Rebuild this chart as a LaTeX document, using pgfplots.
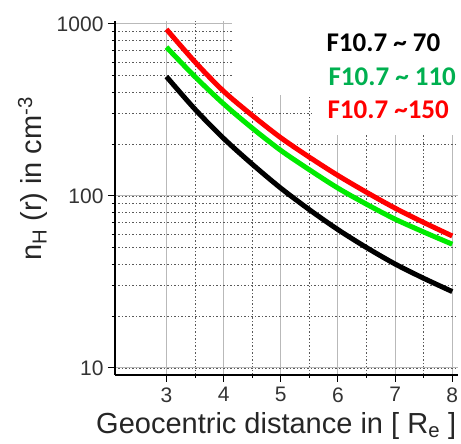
\documentclass[border=0pt]{standalone}
\usepackage{pgfplots}
\pgfplotsset{compat=1.18}
\usepackage{fontspec}
\setmainfont{Liberation Sans}
\newfontfamily\calibri{Carlito}
\definecolor{lgreen}{RGB}{0,235,0}
\definecolor{tgreen}{RGB}{0,176,80}

\begin{document}
\begin{tikzpicture}
\begin{axis}[
    scale only axis,
    width=343pt, height=354pt,
    ymode=log,
    xmin=2.1, xmax=8.1,
    ymin=9.1, ymax=1040,
    axis x line=bottom, axis y line=left,
    axis line style={-, line width=1.4pt},
    xtick={3,4,5,6,7,8},
    minor x tick num=1,
    ytick={10,100,1000},
    yticklabels={10,100,1000},
    tick align=outside,
    major tick length=7pt, minor tick length=3pt,
    tick style={black, line width=1pt},
    grid=both,
    major grid style={gray!55, line width=1pt, solid},
    minor grid style={black!65, line width=0.8pt, dash pattern=on 1.5pt off 2pt},
    /pgf/number format/assume math mode=true,
    tick label style={font=\fontsize{21}{25}\selectfont, text=black!80},
    xticklabel style={yshift=-2pt},
    yticklabel style={xshift=-1pt},
    xlabel={Geocentric distance in [ R\textsubscript{e} ]},
    ylabel={n\textsubscript{H} (r) in cm\textsuperscript{-3}},
    xlabel style={font=\fontsize{29}{33}\selectfont, text=black!85,
        at={(axis description cs:0.47,-0.166)}, anchor=base},
    ylabel style={font=\fontsize{29}{33}\selectfont, text=black!85,
        at={(axis description cs:-0.24,0.554)}, anchor=center},
    clip=true,
]
\fill[white] (axis cs:4.15,386) rectangle (axis cs:8.3,1200);
\fill[white] (axis cs:5.55,226) rectangle (axis cs:8.3,400);
\addplot[black, line width=5pt, smooth] coordinates {
    (3,494) (3.5,319) (4,216) (4.5,153) (5,111) (5.5,83.2) (6,63.7) (6.5,50.1) (7,40.2) (7.5,33.2) (8,27.8)};
\addplot[lgreen, line width=5pt, smooth] coordinates {
    (3,733) (3.5,493) (4,343) (4.5,248) (5,184) (5.5,142) (6,111) (6.5,89.5) (7,73.3) (7.5,61.7) (8,52.4)};
\addplot[red, line width=5pt, smooth] coordinates {
    (3,931) (3.5,601) (4,406) (4.5,294) (5,218) (5.5,168) (6,131.5) (6.5,105) (7,84.9) (7.5,70.1) (8,58.5)};
\end{axis}
\begin{scope}[font=\calibri\bfseries\fontsize{27}{30}\selectfont]
\node[anchor=west, text=black] at (208pt,332pt) {F10.7 \textasciitilde{} 70};
\node[anchor=west, text=tgreen] at (210pt,298pt) {F10.7 \textasciitilde{} 110};
\node[anchor=west, text=red] at (209pt,265pt) {F10.7 \textasciitilde{}150};
\end{scope}
\pgfresetboundingbox
\path[use as bounding box] (-115pt,-69pt) rectangle (346pt,375pt);
\end{tikzpicture}
\end{document}
